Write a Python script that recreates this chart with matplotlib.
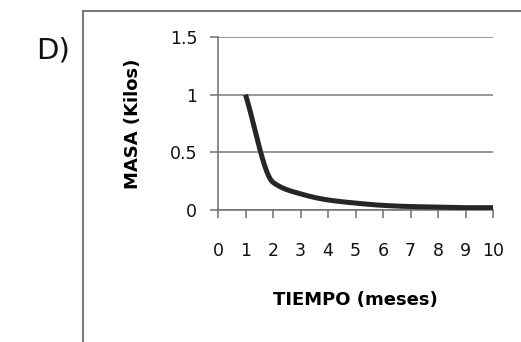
import matplotlib
matplotlib.use('Agg')
import matplotlib.pyplot as plt
import numpy as np
from matplotlib.lines import Line2D

# datos
meses = [1, 2, 3, 4, 5, 6, 7, 8, 9, 10]
masa = [1.0, 0.24, 0.14, 0.087, 0.06, 0.04, 0.03, 0.025, 0.02, 0.02]
xticks = list(range(0, 11))
yticks = [0, 0.5, 1, 1.5]
ytick_labels = ['0', '0.5', '1', '1.5']


def smooth(x, y, n=40):
    # linea suavizada (cubica monotona, sin rebotes)
    x = np.asarray(x, float)
    y = np.asarray(y, float)
    h = np.diff(x)
    d = np.diff(y) / h
    m = np.zeros_like(y)
    m[0], m[-1] = d[0], d[-1]
    for i in range(1, len(y) - 1):
        if d[i - 1] * d[i] > 0:
            w1 = 2 * h[i] + h[i - 1]
            w2 = h[i] + 2 * h[i - 1]
            m[i] = (w1 + w2) / (w1 / d[i - 1] + w2 / d[i])
    xs, ys = [], []
    for i in range(len(x) - 1):
        t = np.linspace(0, 1, n)
        h00 = 2 * t ** 3 - 3 * t ** 2 + 1
        h10 = t ** 3 - 2 * t ** 2 + t
        h01 = -2 * t ** 3 + 3 * t ** 2
        h11 = t ** 3 - t ** 2
        xs.extend(x[i] + t * h[i])
        ys.extend(h00 * y[i] + h10 * h[i] * m[i] + h01 * y[i + 1] + h11 * h[i] * m[i + 1])
    return xs, ys


fig = plt.figure(figsize=(5.21, 3.42), dpi=100)
ax = fig.add_axes([218 / 521, 132 / 342, 275 / 521, 173 / 342])

sx, sy = smooth(meses, masa)
ax.plot(sx, sy, color='#262626', lw=3.6, solid_capstyle='butt', zorder=3)

ax.set_xlim(0, 10)
ax.set_ylim(0, 1.5)
ax.set_xticks(xticks)
ax.set_yticks(yticks)
ax.set_yticklabels(ytick_labels)
ax.yaxis.grid(True, color='#7a7a7a', lw=1.1)
ax.set_axisbelow(True)
for s in ['top', 'right']:
    ax.spines[s].set_visible(False)
for s in ['left', 'bottom']:
    ax.spines[s].set_color('#6e6e6e')
    ax.spines[s].set_linewidth(1.1)
ax.tick_params(axis='both', direction='out', length=6, width=1.1,
               color='#6e6e6e', labelsize=12.5, labelcolor='#111111')
ax.tick_params(axis='x', pad=17)
ax.tick_params(axis='y', pad=9)

ax.set_xlabel('TIEMPO (meses)', fontsize=13, fontweight='bold', va='center')
ax.set_ylabel('MASA (Kilos)', fontsize=13, fontweight='bold', va='center')
ax.xaxis.set_label_coords(0.5, (42 - 132) / 173)
ax.yaxis.set_label_coords((133 - 218) / 275, 0.5)

# recuadro exterior
fig.add_artist(Line2D([83 / 521, 1.0], [1 - 11 / 342, 1 - 11 / 342],
                      transform=fig.transFigure, color='#7a7a7a', lw=1.5))
fig.add_artist(Line2D([83 / 521, 83 / 521], [0, 1 - 11 / 342],
                      transform=fig.transFigure, color='#7a7a7a', lw=1.5))

fig.text(36 / 521, 1 - 51 / 342, 'D)', fontsize=21, va='center', ha='left',
         color='#111111')

fig.savefig('out.png', dpi=100)
